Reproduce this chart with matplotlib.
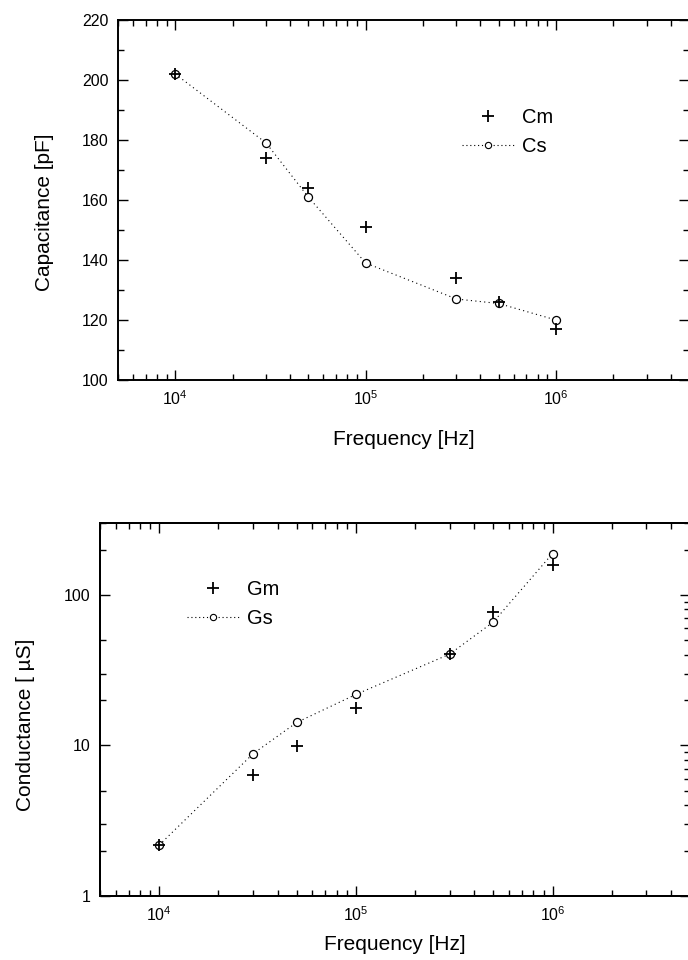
import numpy as np
import matplotlib
matplotlib.use("Agg")
import matplotlib.pyplot as plt
from matplotlib.lines import Line2D
from matplotlib.ticker import LogLocator, MultipleLocator, NullFormatter

plt.rcParams['font.family'] = ['Liberation Sans', 'DejaVu Sans']
plt.rcParams['mathtext.default'] = 'regular'

# measured data
freq = [1e4, 3e4, 5e4, 1e5, 3e5, 5e5, 1e6]
cap_m = [202, 174, 164, 151, 134, 126, 117]
cap_s = [202, 179, 161, 139, 127, 125.5, 120]
cond_m = [2.18, 6.4, 9.9, 17.6, 40.4, 77.4, 157]
cond_s = [2.18, 8.8, 14.2, 21.8, 40.4, 66, 188]

fig = plt.figure(figsize=(6.88, 9.6), dpi=100)

line_kw = dict(color='black', lw=0.8, dashes=(1, 3), marker='o', ms=5.8,
               mfc='white', mec='black', mew=0.9)
plus_kw = dict(color='black', ls='none', marker='+', ms=9, mew=1.3)
leg_kw = dict(frameon=False, fontsize=14.5, handlelength=2.6,
              handletextpad=0.4, borderpad=0, borderaxespad=0,
              labelspacing=0.5, loc='upper left')


def style_axis(ax):
    for s in ax.spines.values():
        s.set_linewidth(1.4)
    ax.tick_params(which='both', direction='in', top=True, right=True,
                   width=1.0, labelsize=11.5)
    ax.tick_params(which='major', length=7, pad=7)
    ax.tick_params(which='minor', length=4)
    ax.set_xscale('log')
    ax.set_xlim(5e3, 5e6)
    ax.xaxis.set_minor_locator(LogLocator(base=10, subs=np.arange(2, 10)))
    ax.xaxis.set_minor_formatter(NullFormatter())
    ax.set_xlabel('Frequency [Hz]', fontsize=15)


def legend_handles():
    return [Line2D([], [], **plus_kw),
            Line2D([], [], color='black', lw=0.8, dashes=(1, 2.5), marker='o',
                   ms=4.5, mfc='white', mec='black', mew=0.8)]


# capacitance panel
ax1 = fig.add_axes([118 / 688, 1 - 380 / 960, 571 / 688, 360 / 960])
style_axis(ax1)
ax1.plot(freq, cap_s, **line_kw)
ax1.plot(freq, cap_m, **plus_kw)
ax1.set_ylim(100, 220)
ax1.yaxis.set_major_locator(MultipleLocator(20))
ax1.yaxis.set_minor_locator(MultipleLocator(10))
ax1.set_ylabel('Capacitance [pF]', fontsize=15)
ax1.yaxis.set_label_coords(-0.112, 0.465)
ax1.xaxis.set_label_coords(0.5, -0.138)
ax1.legend(legend_handles(), ['Cm', 'Cs'], bbox_to_anchor=(0.602, 0.755),
           **leg_kw)

# conductance panel
ax2 = fig.add_axes([100 / 688, 1 - 896 / 960, 590 / 688, 373 / 960])
style_axis(ax2)
ax2.plot(freq, cond_s, **line_kw)
ax2.plot(freq, cond_m, **plus_kw)
ax2.set_yscale('log')
ax2.set_ylim(1, 300)
ax2.yaxis.set_minor_locator(LogLocator(base=10, subs=(2, 3, 5)))
ax2.yaxis.set_minor_formatter(NullFormatter())
ax2.yaxis.set_major_formatter(plt.FuncFormatter(lambda v, p: '%g' % v))
ax2.tick_params(axis='y', right=False)
ax2.set_ylabel('Conductance [ \u00b5S]', fontsize=15)
ax2.yaxis.set_label_coords(-0.11, 0.46)
ax2.xaxis.set_label_coords(0.5, -0.105)

# right-hand scale carries the full set of minor ticks
ax2r = ax2.twinx()
ax2r.set_yscale('log')
ax2r.set_ylim(1, 300)
ax2r.yaxis.set_minor_locator(LogLocator(base=10, subs=np.arange(2, 10)))
ax2r.yaxis.set_minor_formatter(NullFormatter())
ax2r.tick_params(which='both', direction='in', labelright=False, width=1.0)
ax2r.tick_params(which='major', length=7)
ax2r.tick_params(which='minor', length=4)
for s in ax2r.spines.values():
    s.set_linewidth(1.4)

ax2.legend(legend_handles(), ['Gm', 'Gs'], bbox_to_anchor=(0.147, 0.847),
           **leg_kw)

fig.savefig('out.png', dpi=100)
